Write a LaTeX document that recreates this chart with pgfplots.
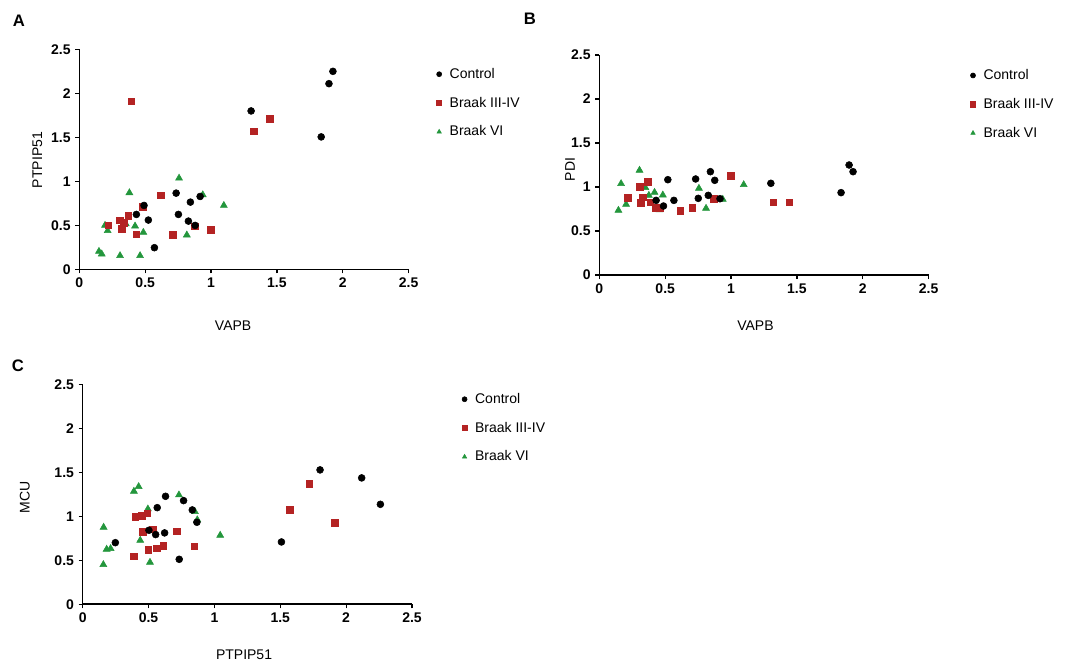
\documentclass[border=0pt]{standalone}
\usepackage{pgfplots}
\pgfplotsset{compat=1.18}
\usepackage{fontspec}
\setmainfont{Liberation Sans}
\definecolor{bred}{RGB}{180,35,35}
\definecolor{bgreen}{RGB}{35,150,60}
\pgfplotsset{
 panel/.style={
  scale only axis, width=247pt, height=165pt,
  xmin=0,xmax=2.5,ymin=0,ymax=2.5,
  axis x line*=bottom, axis y line*=left,
  axis line style={line width=1.2pt,-},
  xtick={0,0.5,1,1.5,2,2.5}, ytick={0,0.5,1,1.5,2,2.5},
  tick align=outside, major tick length=3pt,
  tick style={black,line width=0.9pt},
  /pgf/number format/assume math mode=true,
  ticklabel style={font=\fontsize{10.5}{12}\selectfont\bfseries},
  label style={font=\fontsize{10.5}{12}\selectfont},
  legend style={draw=none, fill=none, font=\fontsize{10.5}{12}\selectfont, row sep=8.5pt, anchor=north west,
    /tikz/every odd column/.append style={column sep=4pt}},
  legend cell align=left,
  reverse legend,
  legend image code/.code={\draw[mark repeat=2,mark phase=2,#1] plot coordinates {(0pt,0pt)(6pt,0pt)(12pt,0pt)};},
  legend image post style={mark size=1.9pt},
 },
 ctrl/.style={only marks, mark=*, mark size=2.6pt, draw=black, fill=black},
 b34/.style={only marks, mark=square*, mark size=2.5pt, draw=bred, fill=bred},
 b6/.style={only marks, mark=triangle*, mark size=3pt, draw=bgreen, fill=bgreen},
}
\begin{document}
\begin{tikzpicture}
\path[use as bounding box] (0,0) rectangle (804pt,-500.25pt);
\node[font=\fontsize{12.5}{14}\selectfont\bfseries] at (14.25pt,-15.75pt) {A};
\node[font=\fontsize{12.5}{14}\selectfont\bfseries] at (397.5pt,-14.25pt) {B};
\node[font=\fontsize{12.5}{14}\selectfont\bfseries] at (13.5pt,-274.5pt) {C};

% Panel A
\begin{axis}[panel, at={(59.5pt,-202pt)}, anchor=south west,
  xlabel={VAPB}, ylabel={PTPIP51},
  xlabel style={at={(axis description cs:0.467,-0.2545)}, anchor=center},
  ylabel style={at={(axis description cs:-0.1277,0.497)}, anchor=center},
  legend style={at={(1.072,0.94)}}]
\addplot[b6] coordinates {(0.757,1.036)(0.380,0.870)(0.937,0.847)(1.097,0.726)(0.352,0.518)(0.423,0.492)(0.215,0.439)(0.486,0.420)(0.816,0.390)(0.195,0.500)(0.149,0.204)(0.170,0.174)(0.309,0.155)(0.461,0.155)};
\addlegendentry{Braak VI}
\addplot[b34] coordinates {(0.393,1.91)(1.322,1.57)(1.444,1.713)(0.618,0.843)(0.479,0.711)(0.372,0.605)(0.309,0.556)(0.337,0.526)(0.220,0.499)(0.322,0.458)(0.433,0.397)(0.709,0.390)(0.874,0.488)(1.000,0.450)};
\addlegendentry{Braak III-IV}
\addplot[ctrl] coordinates {(1.925,2.25)(1.895,2.11)(1.304,1.80)(1.836,1.505)(0.735,0.866)(0.491,0.726)(0.917,0.828)(0.843,0.764)(0.433,0.624)(0.752,0.624)(0.524,0.56)(0.828,0.548)(0.879,0.499)(0.570,0.246)};
\addlegendentry{Control}
\end{axis}

% Panel B
\begin{axis}[panel, at={(449.5pt,-206.25pt)}, anchor=south west,
  xlabel={VAPB}, ylabel={PDI},
  xlabel style={at={(axis description cs:0.474,-0.23)}, anchor=center},
  ylabel style={at={(axis description cs:-0.089,0.48)}, anchor=center},
  legend style={at={(1.114,0.96)}}]
\addplot[b6] coordinates {(0.165,1.038)(0.145,0.735)(0.203,0.803)(0.305,1.190)(0.350,0.992)(0.376,0.905)(0.419,0.939)(0.482,0.909)(0.457,0.739)(0.756,0.985)(0.810,0.758)(0.937,0.860)(1.096,1.026)};
\addlegendentry{Braak VI}
\addplot[b34] coordinates {(0.997,1.129)(1.320,0.826)(1.442,0.826)(0.368,1.060)(0.305,1.004)(0.216,0.879)(0.330,0.883)(0.315,0.818)(0.386,0.826)(0.426,0.765)(0.460,0.760)(0.614,0.731)(0.706,0.765)(0.868,0.864)};
\addlegendentry{Braak III-IV}
\addplot[ctrl] coordinates {(1.896,1.25)(1.926,1.174)(1.835,0.936)(1.302,1.042)(0.843,1.174)(0.731,1.091)(0.876,1.076)(0.520,1.083)(0.751,0.871)(0.827,0.905)(0.916,0.867)(0.431,0.848)(0.566,0.848)(0.487,0.784)};
\addlegendentry{Control}
\end{axis}

% Panel C
\begin{axis}[panel, at={(62pt,-453.2pt)}, anchor=south west,
  xlabel={PTPIP51}, ylabel={MCU},
  xlabel style={at={(axis description cs:0.49,-0.23)}, anchor=center},
  ylabel style={at={(axis description cs:-0.176,0.486)}, anchor=center},
  legend style={at={(1.139,0.985)}}]
\addplot[b6] coordinates {(0.425,1.337)(0.389,1.284)(0.731,1.242)(0.495,1.083)(0.852,1.053)(0.159,0.875)(1.044,0.784)(0.437,0.727)(0.182,0.625)(0.212,0.633)(0.157,0.451)(0.511,0.477)(0.870,0.960)};
\addlegendentry{Braak VI}
\addplot[b34] coordinates {(1.719,1.367)(1.570,1.072)(1.914,0.924)(0.399,0.992)(0.447,1.008)(0.490,1.034)(0.455,0.826)(0.533,0.852)(0.713,0.830)(0.498,0.621)(0.561,0.636)(0.612,0.663)(0.847,0.659)(0.387,0.545)};
\addlegendentry{Braak III-IV}
\addplot[ctrl] coordinates {(1.802,1.527)(2.118,1.436)(2.260,1.136)(1.509,0.708)(0.629,1.227)(0.766,1.178)(0.566,1.098)(0.832,1.072)(0.867,0.932)(0.248,0.700)(0.503,0.841)(0.554,0.792)(0.622,0.811)(0.733,0.511)};
\addlegendentry{Control}
\end{axis}
\end{tikzpicture}
\end{document}
